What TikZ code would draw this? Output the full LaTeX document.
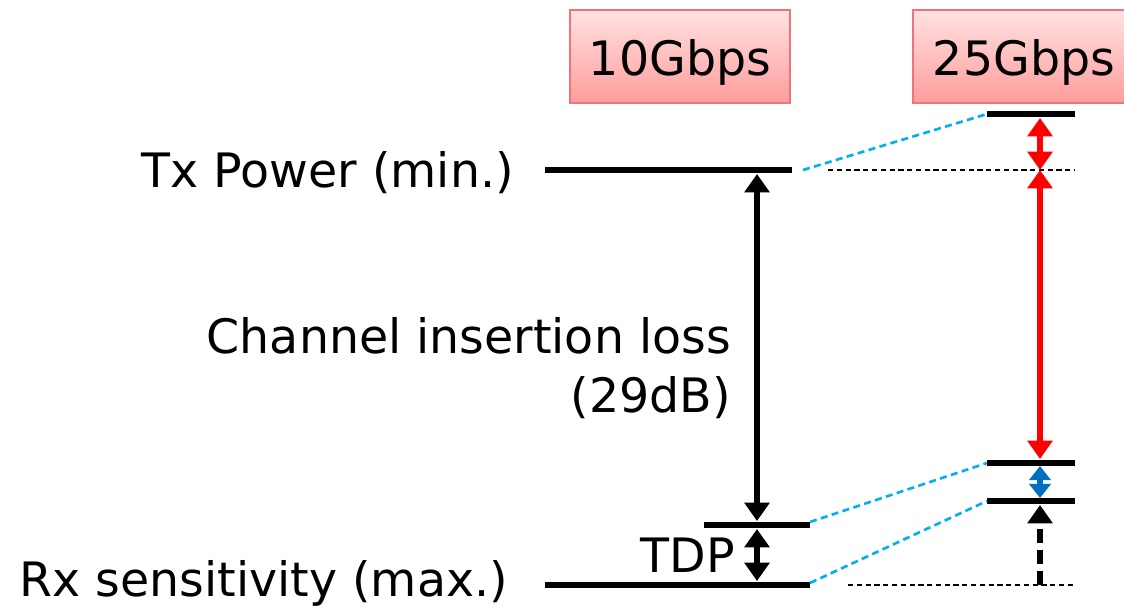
\documentclass[tikz,border=0pt]{standalone}
\usepackage{fontspec}
\setmainfont{DejaVu Sans}
\usetikzlibrary{arrows.meta,positioning,calc}

\definecolor{boxtop}{HTML}{FFE1E1}
\definecolor{boxbot}{HTML}{FF9C9C}
\definecolor{boxline}{HTML}{EE737B}
\definecolor{linkcyan}{HTML}{00B0F0}
\definecolor{tdpblue}{HTML}{0070C0}

\begin{document}
\begin{tikzpicture}[
    x=0.02cm, y=-0.02cm,
    font=\fontsize{27}{34}\selectfont,
    >={Triangle[width=14pt,length=10.5pt]},
    rate/.style={rectangle, draw=boxline, line width=1pt, top color=boxtop, bottom color=boxbot, minimum width=4.4cm, minimum height=1.86cm, inner sep=0pt},
    level/.style={line width=3.8pt},
    ref/.style={line width=1pt, dash pattern=on 3pt off 2pt},
    link/.style={linkcyan, line width=1.5pt, dash pattern=on 4pt off 2.5pt},
    gap/.style={line width=3.2pt, <->}
]
    \useasboundingbox (0,0) rectangle (1124,608);

    % Data rate boxes
    \node[rate] (r10) at (680,56.5) {};
    \node (r10txt) at (680,62) {10Gbps};
    \node[rate, minimum width=4.45cm] (r25) at (1024.5,56.5) {};
    \node (r25txt) at (1024,62) {25Gbps};

    % Level ends, 10G
    \coordinate (tx10w) at (545,170);  \coordinate (tx10e) at (792,170);
    \coordinate (tdp10w) at (704,525); \coordinate (tdp10e) at (810,525);
    \coordinate (rx10w) at (545,585);  \coordinate (rx10e) at (810,585);
    % Level ends, 25G
    \coordinate (tx25w) at (987,114);  \coordinate (tx25e) at (1075,114);
    \coordinate (ch25w) at (987,463);  \coordinate (ch25e) at (1075,463);
    \coordinate (rx25w) at (987,501);  \coordinate (rx25e) at (1075,501);
    % Arrow columns
    \coordinate (col10) at (757,0);
    \coordinate (col25) at (1040,0);

    % Levels
    \draw[level] (tx10w) -- (tx10e);
    \draw[level] (tdp10w) -- (tdp10e);
    \draw[level] (rx10w) -- (rx10e);
    \draw[level] (tx25w) -- (tx25e);
    \draw[level] (ch25w) -- (ch25e);
    \draw[level] (rx25w) -- (rx25e);

    % 10G levels carried over
    \draw[ref] (tx10e) ++(36,0) -- (tx25e |- tx10e);
    \draw[ref] (rx10e) ++(38,0) -- (tx25e |- rx10e);

    % Cyan links
    \draw[link] (tx10e) ++(11,0) -- (tx25w);
    \draw[link] (tdp10e) ++(0,-3) -- (ch25w);
    \draw[link] (rx10e) ++(0,-2) -- (rx25w);

    % Labels
    \node[anchor=east] (txlbl) at (520,173) {Tx Power (min.)};
    \node[anchor=east] (rxlbl) at (514,583) {Rx sensitivity (max.)};
    \node[anchor=east, align=right] (illbl) at (737,368) {Channel insertion loss\\(29dB)};
    \node (tdplbl) at (688,555) {TDP};

    % 10G budget
    \draw[gap] (tx10w -| col10) ++(0,4) -- ([yshift=0.08cm]tdp10w -| col10);
    \draw[gap] (tdp10w -| col10) ++(0,4) -- ([yshift=0.08cm]rx10w -| col10);

    % 25G budget
    \draw[gap, red, dash pattern=on 10pt off 5pt] (tx25w -| col25) ++(0,4) -- (tx10w -| col25);
    \draw[gap, red] (tx10w -| col25) -- ([yshift=0.08cm]ch25w -| col25);
    \draw[gap, tdpblue, >={Triangle[width=12pt,length=8pt]}] (ch25w -| col25) ++(0,3) -- ([yshift=0.06cm]rx25w -| col25);
    \draw[line width=3.2pt, dash pattern=on 8pt off 4pt, ->] (rx10w -| col25) -- ([yshift=-0.08cm]rx25w -| col25);
\end{tikzpicture}
\end{document}
